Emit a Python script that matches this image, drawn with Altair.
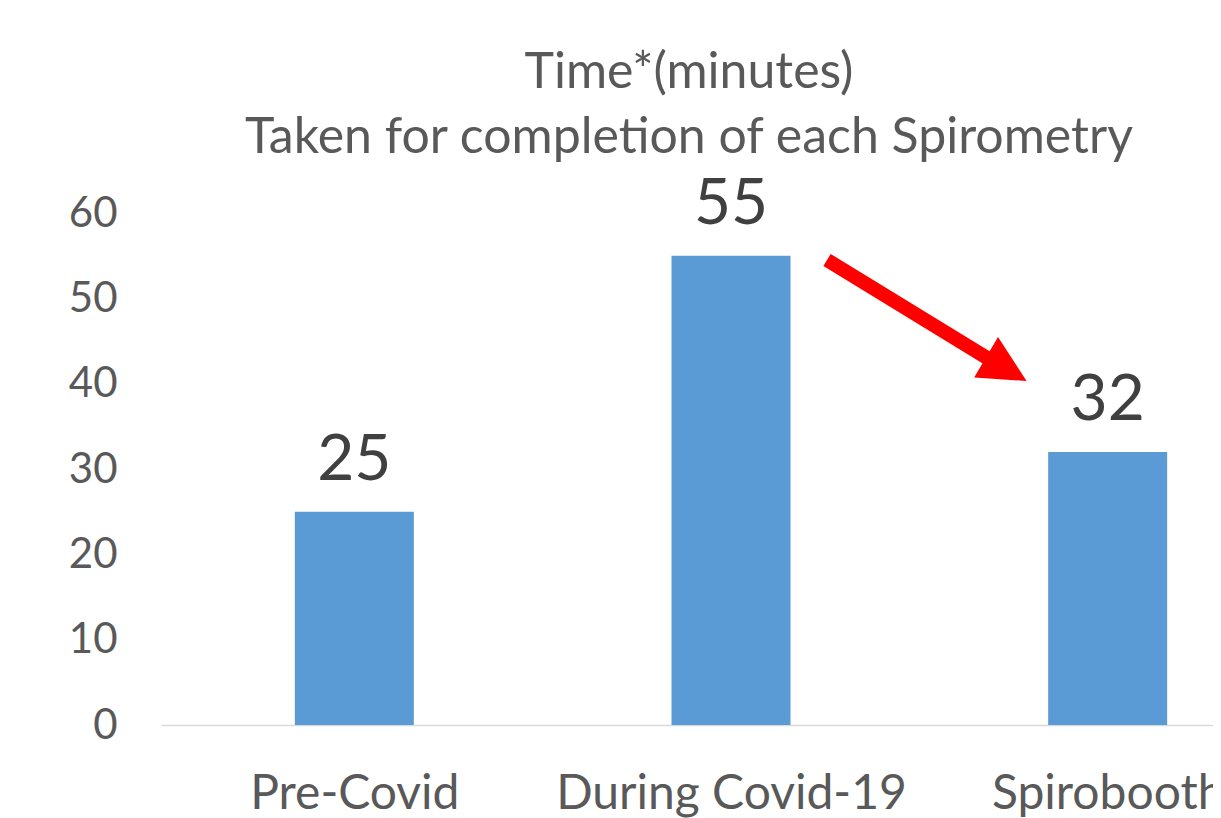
import json
import altair as alt
import pandas as pd

# ---- data ----
categories = ["Pre-Covid", "During Covid-19", "Spirobooth"]
minutes = [25, 55, 32]
cat_index = [0, 1, 2]

# arrow annotation (in data units: x = category index, y = minutes)
arrow_x = [1.255, 1.703]
arrow_y = [54.5, 42.4]
head_x = [1.731]
head_y = [41.7]

title_lines = ["Time*(minutes)", "Taken for completion of each Spirometry"]

FONT = "Lato"
TEXT = "#595959"

bars_df = pd.DataFrame({"i": cat_index, "cat": categories, "v": minutes})
arrow_df = pd.DataFrame({"i": arrow_x, "v": arrow_y})
head_df = pd.DataFrame({"i": head_x, "v": head_y})

label_expr = json.dumps(categories) + "[datum.value]"

xscale = alt.Scale(domain=[-0.5, 2.5], nice=False, zero=False)
yscale = alt.Scale(domain=[0, 60], nice=False)

x_enc = alt.X(
    "i:Q",
    scale=xscale,
    axis=alt.Axis(
        values=cat_index,
        labelExpr=label_expr,
        title=None,
        ticks=False,
        grid=False,
        domainColor="#D9D9D9",
        domainWidth=1.5,
        labelFont=FONT,
        labelFontSize=48,
        labelColor=TEXT,
        labelPadding=45,
        labelFlush=False,
        labelOverlap=False,
        labelLimit=0,
    ),
)
y_enc = alt.Y(
    "v:Q",
    scale=yscale,
    axis=alt.Axis(
        values=[0, 10, 20, 30, 40, 50, 60],
        title=None,
        ticks=False,
        grid=False,
        domain=False,
        labelFont=FONT,
        labelFontSize=42,
        labelColor=TEXT,
        labelPadding=44,
    ),
)

bars = alt.Chart(bars_df).mark_bar(size=119, color="#5B9BD5").encode(x=x_enc, y=y_enc)

labels = alt.Chart(bars_df).mark_text(
    dy=-32, baseline="alphabetic", font=FONT, fontSize=64, color="#404040"
).encode(x="i:Q", y="v:Q", text="v:Q")

shaft = alt.Chart(arrow_df).mark_line(
    color="#FF0000", strokeWidth=14, strokeCap="butt"
).encode(x="i:Q", y="v:Q")

head = alt.Chart(head_df).mark_point(
    shape="M1,0L-1,-1L-1,1Z", size=2209, angle=30.5, filled=True,
    color="#FF0000", opacity=1, strokeWidth=0
).encode(x="i:Q", y="v:Q")

chart = (
    alt.layer(bars, labels, shaft, head)
    .properties(
        width=1140,
        height=512,
        background="white",
        padding={"left": 60, "top": 39, "right": -88, "bottom": 0},
        title=alt.TitleParams(
            text=title_lines,
            font=FONT,
            fontSize=50,
            fontWeight="normal",
            color=TEXT,
            anchor="middle",
            dx=-42,
            lineHeight=65,
            offset=10,
        ),
    )
    .configure_view(strokeWidth=0, stroke="transparent")
)

chart.save("out.html", embed_options={"renderer": "svg", "actions": False})
